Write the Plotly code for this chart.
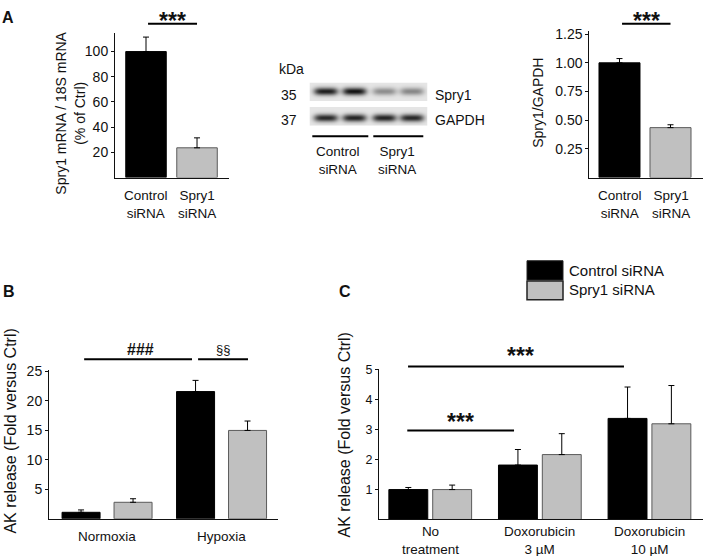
import numpy as np
import plotly.graph_objects as go

W, H = 709, 556
FONT = "Liberation Sans, Arial, sans-serif"

# ---------------- data ----------------
a_groups = ["Control<br>siRNA", "Spry1<br>siRNA"]
mrna_vals = [100, 23.6]
mrna_errs = [11.5, 7.9]
prot_vals = [1.0, 0.435]
prot_errs = [0.037, 0.025]

blot_lanes = ["Control", "Control", "Spry1", "Spry1"]
spry1_band = [0.95, 1.0, 0.42, 0.45]
gapdh_band = [0.9, 0.92, 0.92, 0.9]

b_groups = ["Normoxia", "Hypoxia"]
b_ctrl = [1.1, 21.6]
b_ctrl_err = [0.4, 1.9]
b_spry = [2.8, 15.0]
b_spry_err = [0.6, 1.6]

c_groups = ["No<br>treatment", "Doxorubicin<br>3 µM", "Doxorubicin<br>10 µM"]
c_ctrl = [1.0, 1.82, 3.38]
c_ctrl_err = [0.07, 0.52, 1.05]
c_spry = [1.0, 2.17, 3.2]
c_spry_err = [0.15, 0.7, 1.28]

BLACK = "#000000"
GRAY = "#c0c0c0"
GRAY_LINE = "#5a5a5a"
TXT = "#111111"


def px(x):
    return x / W


def py(y):
    return 1 - y / H


fig = go.Figure()


def err(vals):
    return dict(type="data", symmetric=False, array=vals, arrayminus=[0] * len(vals),
                color="black", thickness=1, width=3)


# ---- Panel A left ----
fig.add_trace(go.Bar(x=list(range(len(a_groups))), y=mrna_vals, width=0.794,
                     marker=dict(color=[BLACK, GRAY], line=dict(color=[BLACK, GRAY_LINE], width=1)),
                     error_y=err(mrna_errs), xaxis="x", yaxis="y", showlegend=False))
# ---- Panel A right ----
fig.add_trace(go.Bar(x=list(range(len(a_groups))), y=prot_vals, width=0.804,
                     marker=dict(color=[BLACK, GRAY], line=dict(color=[BLACK, GRAY_LINE], width=1)),
                     error_y=err(prot_errs), xaxis="x2", yaxis="y2", showlegend=False))

# ---- Blot (heatmap) ----
bx = np.arange(310, 428)
by = np.arange(77, 121)
X, Y = np.meshgrid(bx, by)
z = np.ones_like(X, dtype=float)
strip1 = (Y >= 77) & (Y <= 95)
strip2 = (Y >= 102) & (Y <= 120)
z[strip1 | strip2] = 0.9
lane_cx = [325.5, 354, 384, 411.5]
for i in range(len(blot_lanes)):
    cx = lane_cx[i]
    for cy, inten in [(86, spry1_band[i]), (112.5, gapdh_band[i])]:
        shape = np.exp(-(np.abs(X - cx) / 12) ** 4 - ((Y - cy) / 3.8) ** 2)
        z = z - inten * shape * 0.82
z = np.clip(z, 0, 1)
fig.add_trace(go.Heatmap(x=bx, y=by, z=z, colorscale=[[0, "#000000"], [1, "#ffffff"]],
                         zmin=0, zmax=1, showscale=False, hoverinfo="skip",
                         xaxis="x3", yaxis="y3"))

# ---- Panel B ----
fig.add_trace(go.Bar(x=list(range(len(b_groups))), y=b_ctrl, width=0.332, offset=-0.393,
                     marker=dict(color=BLACK, line=dict(color=BLACK, width=1)),
                     error_y=err(b_ctrl_err), xaxis="x4", yaxis="y4", showlegend=False))
fig.add_trace(go.Bar(x=list(range(len(b_groups))), y=b_spry, width=0.332, offset=0.061,
                     marker=dict(color=GRAY, line=dict(color=GRAY_LINE, width=1)),
                     error_y=err(b_spry_err), xaxis="x4", yaxis="y4", showlegend=False))

# ---- Panel C ----
fig.add_trace(go.Bar(x=list(range(len(c_groups))), y=c_ctrl, width=0.355, offset=-0.378,
                     marker=dict(color=BLACK, line=dict(color=BLACK, width=1)),
                     error_y=err(c_ctrl_err), xaxis="x5", yaxis="y5", showlegend=False))
fig.add_trace(go.Bar(x=list(range(len(c_groups))), y=c_spry, width=0.355, offset=0.022,
                     marker=dict(color=GRAY, line=dict(color=GRAY_LINE, width=1)),
                     error_y=err(c_spry_err), xaxis="x5", yaxis="y5", showlegend=False))


def xax(domain, rng, n, anchor):
    return dict(domain=domain, range=rng, tickvals=list(range(n)), showticklabels=False,
                showline=True, linecolor=TXT, linewidth=1, ticks="", showgrid=False,
                zeroline=False, anchor=anchor, fixedrange=True)


def yax(domain, rng, tickvals, ticktext=None, size=14, anchor="x"):
    d = dict(domain=domain, range=rng, tickvals=tickvals,
             showline=True, linecolor=TXT, linewidth=1, ticks="outside", ticklen=3,
             tickcolor=TXT, showgrid=False, zeroline=False,
             tickfont=dict(family=FONT, size=size, color=TXT), anchor=anchor, fixedrange=True)
    if ticktext is not None:
        d["ticktext"] = ticktext
    return d


fig.update_layout(
    width=W, height=H, margin=dict(l=0, r=0, t=0, b=0),
    paper_bgcolor="white", plot_bgcolor="white", barmode="overlay",
    font=dict(family=FONT, color=TXT),
    xaxis=xax([px(115), px(229)], [-0.608, 1.627], len(a_groups), "y"),
    yaxis=yax([py(172.7), py(26)], [0, 115], [20, 40, 60, 80, 100], anchor="x"),
    xaxis2=xax([px(589.3), px(703)], [-0.592, 1.637], len(a_groups), "y2"),
    yaxis2=yax([py(172.7), py(24)], [0, 1.28], [0.25, 0.5, 0.75, 1.0, 1.25],
               ["0.25", "0.50", "0.75", "1.00", "1.25"], anchor="x2"),
    xaxis3=dict(domain=[px(309.5), px(427.5)], range=[309.5, 427.5], visible=False,
                anchor="y3", fixedrange=True),
    yaxis3=dict(domain=[py(120.5), py(76.5)], range=[120.5, 76.5], visible=False,
                anchor="x3", fixedrange=True),
    xaxis4=xax([px(49), px(278)], [-0.507, 1.493], len(b_groups), "y4"),
    yaxis4=yax([py(518.3), py(368)], [0, 25.2], [5, 10, 15, 20, 25], anchor="x4"),
    xaxis5=xax([px(379), px(703)], [-0.468, 2.488], len(c_groups), "y5"),
    yaxis5=yax([py(519), py(367)], [0, 5.02], [1, 2, 3, 4, 5], size=12.5, anchor="x5"),
)

shapes = []


def sig(xref, x0, x1, y):
    shapes.append(dict(type="line", xref=xref, yref="paper", x0=x0, x1=x1, y0=py(y), y1=py(y),
                       line=dict(color="black", width=2)))


sig("x", 0.04, 1.0, 17)
sig("x2", 0.05, 1.0, 17)
sig("x4", -0.2, 0.742, 356.7)
sig("x4", 0.795, 1.231, 356.7)
sig("x5", -0.203, 1.767, 364)
sig("x5", -0.21, 0.764, 429)

# blot underlines
shapes.append(dict(type="line", xref="paper", yref="paper", x0=px(312.3), x1=px(368.3),
                   y0=py(131), y1=py(131), line=dict(color="black", width=2)))
shapes.append(dict(type="line", xref="paper", yref="paper", x0=px(373.3), x1=px(423.3),
                   y0=py(131), y1=py(131), line=dict(color="black", width=2)))

# legend boxes
shapes.append(dict(type="rect", xref="paper", yref="paper", x0=px(527), x1=px(563),
                   y0=py(276.5), y1=py(257), fillcolor=BLACK, line=dict(color="#222", width=1)))
shapes.append(dict(type="rect", xref="paper", yref="paper", x0=px(527), x1=px(563),
                   y0=py(296.5), y1=py(277.5), fillcolor=GRAY, line=dict(color="#222", width=1.5)))

fig.update_layout(shapes=shapes)

ann = []


def text(x, y, t, size=14, bold=False, angle=0, xanchor="center", xref="paper"):
    ann.append(dict(x=(px(x) if xref == "paper" else x), y=py(y), xref=xref, yref="paper",
                    text=("<b>" + t + "</b>") if bold else t, showarrow=False,
                    font=dict(family=FONT, size=size, color=TXT), xanchor=xanchor,
                    yanchor="middle", textangle=angle))


def cats(xref, labels, y_center, size=13.5):
    for i, lab in enumerate(labels):
        text(i, y_center, lab, size=size, xref=xref)


cats("x", a_groups, 200)
cats("x2", a_groups, 200)
cats("x4", b_groups, 536)
cats("x5", c_groups, 540)

text(8, 11, "A", 16, bold=True)
text(9, 288, "B", 16, bold=True)
text(345, 288, "C", 16, bold=True)

text(70, 108, "Spry1 mRNA / 18S mRNA<br>(% of Ctrl)", 14, angle=-90)
text(538, 97, "Spry1/GAPDH", 14, angle=-90)
text(11, 430, "AK release (Fold versus Ctrl)", 16, angle=-90)
text(345, 434, "AK release (Fold versus Ctrl)", 16, angle=-90)

text(172.5, 14, "***", 23, bold=True)
text(646.5, 14, "***", 23, bold=True)
text(140, 347, "###", 16, bold=True)
text(223, 347, "§§", 13)
text(520, 353, "***", 23, bold=True)
text(460, 420, "***", 23, bold=True)

# blot labels
text(291.5, 63, "kDa", 14)
text(289, 89, "35", 14)
text(289, 114, "37", 14)
text(433, 89, "Spry1", 14, xanchor="left")
text(433, 114, "GAPDH", 14, xanchor="left")
text(338, 155, "Control<br>siRNA", 13.5)
text(397, 155, "Spry1<br>siRNA", 13.5)

# legend text
text(567, 266.5, "Control siRNA", 15, xanchor="left")
text(567, 286.5, "Spry1 siRNA", 15, xanchor="left")

fig.update_layout(annotations=ann)
fig.write_html("out.html", config={"displayModeBar": False},
               post_script="document.body.style.margin='0px';")
